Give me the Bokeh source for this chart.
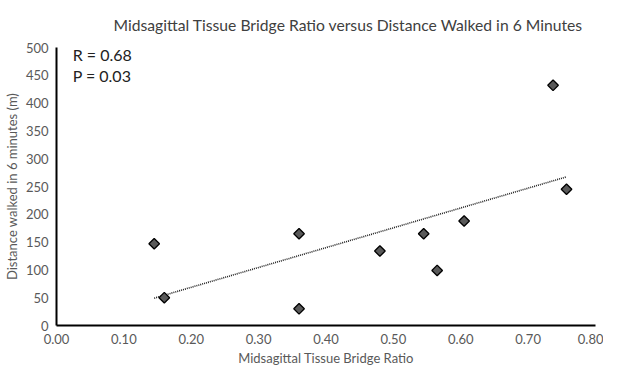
import numpy as np
from bokeh.plotting import figure
from bokeh.models import Range1d, FixedTicker, NumeralTickFormatter, Label
from bokeh.embed import file_html
from bokeh.resources import INLINE

ratio = [0.145, 0.16, 0.36, 0.36, 0.48, 0.545, 0.565, 0.605, 0.737, 0.757]
distance = [147, 50, 165, 30, 134, 165, 99, 188, 432, 245]
x_ticks = [0.0, 0.1, 0.2, 0.3, 0.4, 0.5, 0.6, 0.7, 0.8]
y_ticks = [0, 50, 100, 150, 200, 250, 300, 350, 400, 450, 500]

FONT = "Lato"
GREY = "#595959"

p = figure(width=603, height=368, output_backend="svg", toolbar_location=None,
           x_range=Range1d(0, 0.8), y_range=Range1d(0, 500),
           min_border_left=0, min_border_right=8, min_border_top=0, min_border_bottom=0)

p.title.text = "Midsagittal Tissue Bridge Ratio versus Distance Walked in 6 Minutes"
p.title.align = "left"
p.title.offset = 57
p.title.text_font = FONT
p.title.text_font_size = "15.7px"
p.title.text_font_style = "normal"
p.title.text_color = "#404040"
p.title.standoff = 27

p.grid.visible = False
p.outline_line_color = None

for ax in (p.xaxis, p.yaxis):
    ax.major_tick_line_color = None
    ax.minor_tick_line_color = None
    ax.major_tick_out = 0
    ax.major_tick_in = 0
    ax.minor_tick_out = 0
    ax.axis_line_color = "black"
    ax.axis_line_width = 2
    ax.major_label_text_font = FONT
    ax.major_label_text_font_size = "13px"
    ax.major_label_text_color = GREY
    ax.axis_label_text_font = FONT
    ax.axis_label_text_font_size = "13px"
    ax.axis_label_text_font_style = "normal"
    ax.axis_label_text_color = GREY

p.xaxis.ticker = FixedTicker(ticks=x_ticks)
p.xaxis.formatter = NumeralTickFormatter(format="0.00")
p.yaxis.ticker = FixedTicker(ticks=y_ticks)
p.xaxis.axis_label = "Midsagittal Tissue Bridge Ratio"
p.yaxis.axis_label = "Distance walked in 6 minutes (m)"
p.xaxis.major_label_standoff = 8
p.xaxis.axis_label_standoff = 3
p.yaxis.major_label_standoff = 8
p.yaxis.axis_label_standoff = 3

# trendline (least squares on data)
m, b = np.polyfit(ratio, distance, 1)
xs = [min(ratio), max(ratio)]
p.line(xs, [m * v + b for v in xs], line_color="#222222", line_width=1.6, line_dash="1 1")

p.scatter(ratio, distance, marker="square", angle=np.pi / 4, size=7.5, fill_color=GREY,
          line_color="black", line_width=1.3)

p.add_layout(Label(x=0.024, y=487, text="R = 0.68", text_font=FONT, text_font_size="16px",
                   text_color="#222222", text_baseline="middle"))
p.add_layout(Label(x=0.024, y=449, text="P = 0.03", text_font=FONT, text_font_size="16px",
                   text_color="#222222", text_baseline="middle"))

open("out.html", "w").write(file_html(p, INLINE))
